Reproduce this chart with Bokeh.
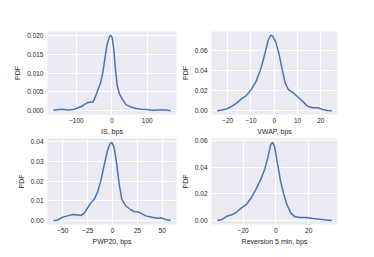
from bokeh.plotting import figure
from bokeh.layouts import gridplot
from bokeh.models import Range1d, FixedTicker
from bokeh.embed import file_html
from bokeh.resources import INLINE

# ---- data ----
is_x = [-165, -142, -123, -109, -95, -86, -77, -67, -58, -53, -46, -39, -32, -25, -19, -13,
        -6.5, -3, 1, 5.6, 10, 15, 21.5, 31, 40, 54, 68, 82, 96, 115, 134, 152, 166]
is_pdf = [0.0001, 0.0004, 0.0002, 0.0003, 0.0008, 0.0011, 0.0017, 0.0022, 0.0023, 0.0023,
          0.0038, 0.0056, 0.0073, 0.0103, 0.0142, 0.0177, 0.0197, 0.0200, 0.0194, 0.0163,
          0.0112, 0.0068, 0.0044, 0.0029, 0.0016, 0.0010, 0.0006, 0.0004, 0.0003, 0.0001,
          0.0002, 0.0002, 0.0000]

vwap_x = [-24.5, -22.4, -20.3, -18.3, -16.2, -14.1, -12.0, -9.9, -7.8, -5.7, -4.0, -2.6,
          -1.5, -0.7, 0.6, 2.0, 3.3, 4.7, 6.1, 8.2, 10.3, 12.4, 14.5, 16.6, 18.7, 20.8,
          22.9, 24.7]
vwap_pdf = [0.0000, 0.0007, 0.0020, 0.0042, 0.0075, 0.0117, 0.0150, 0.0209, 0.0290, 0.0421,
            0.0568, 0.0698, 0.0747, 0.0741, 0.0682, 0.0568, 0.0421, 0.0274, 0.0209, 0.0176,
            0.0134, 0.0088, 0.0042, 0.0029, 0.0029, 0.0013, 0.0003, 0.0000]

pwp_x = [-59.5, -55.2, -50.2, -45.2, -40.1, -35.1, -31.8, -28.4, -25.1, -21.7, -18.4, -15.1,
         -11.7, -8.4, -5.0, -2.3, -0.7, 1.7, 4.0, 6.7, 9.4, 13.4, 18.4, 21.7, 25.1, 28.4,
         33.4, 40.1, 45.2, 49.5, 53.5, 58.5]
pwp_pdf = [0.0000, 0.0002, 0.0017, 0.0024, 0.0031, 0.0028, 0.0026, 0.0038, 0.0064, 0.0091,
           0.0108, 0.0143, 0.0203, 0.0280, 0.0357, 0.0392, 0.0397, 0.0371, 0.0297, 0.0186,
           0.0108, 0.0074, 0.0055, 0.0046, 0.0045, 0.0038, 0.0024, 0.0017, 0.0012, 0.0014,
           0.0005, 0.0000]

rev_x = [-35.8, -32.9, -29.9, -26.9, -24.0, -21.0, -18.0, -15.0, -12.1, -9.1, -6.7, -4.8,
         -3.2, -2.0, -0.8, 0.8, 2.8, 4.8, 6.7, 9.1, 11.7, 14.7, 18.6, 22.6, 26.5, 30.5, 34.1]
rev_pdf = [0.0000, 0.0008, 0.0033, 0.0043, 0.0064, 0.0095, 0.0120, 0.0171, 0.0235, 0.0312,
           0.0388, 0.0478, 0.0567, 0.0585, 0.0554, 0.0439, 0.0299, 0.0197, 0.0120, 0.0056,
           0.0028, 0.0023, 0.0023, 0.0015, 0.0010, 0.0005, 0.0000]

# ---- tick values and labels ----
is_xticks = [-100, 0, 100]
is_xlabels = ["\u2212100", "0", "100"]
is_yticks = [0.0, 0.005, 0.01, 0.015, 0.02]
is_ylabels = ["0.000", "0.005", "0.010", "0.015", "0.020"]

vwap_xticks = [-20, -10, 0, 10, 20]
vwap_xlabels = ["\u221220", "\u221210", "0", "10", "20"]
vwap_yticks = [0.0, 0.02, 0.04, 0.06]
vwap_ylabels = ["0.00", "0.02", "0.04", "0.06"]

pwp_xticks = [-50, -25, 0, 25, 50]
pwp_xlabels = ["\u221250", "\u221225", "0", "25", "50"]
pwp_yticks = [0.0, 0.01, 0.02, 0.03, 0.04]
pwp_ylabels = ["0.00", "0.01", "0.02", "0.03", "0.04"]

rev_xticks = [-20, 0, 20]
rev_xlabels = ["\u221220", "0", "20"]
rev_yticks = [0.0, 0.02, 0.04, 0.06]
rev_ylabels = ["0.00", "0.02", "0.04", "0.06"]

x_titles = ["IS, bps", "VWAP, bps", "PWP20, bps", "Reversion 5 min, bps"]

BG = "#EAEAF2"
LINE = "#4C72B0"
TXT = "#262626"
FONT = "Liberation Sans"


def padded(vals, frac=0.05):
    lo, hi = min(vals), max(vals)
    span = hi - lo
    return Range1d(lo - frac * span, hi + frac * span)


def make(x, y, xlabel, xt, xl, yt, yl, width, height, bl, br, bt, bb):
    p = figure(width=width, height=height, output_backend="svg", toolbar_location=None,
               x_range=padded(x), y_range=padded(y),
               min_border_left=bl, min_border_right=br, min_border_top=bt,
               min_border_bottom=bb, background_fill_color=BG,
               border_fill_color="white", outline_line_color=None)
    p.line(x, y, line_color=LINE, line_width=1.5)
    p.xaxis.ticker = FixedTicker(ticks=xt)
    p.yaxis.ticker = FixedTicker(ticks=yt)
    p.xaxis.major_label_overrides = dict(zip(xt, xl))
    p.yaxis.major_label_overrides = dict(zip(yt, yl))
    p.xaxis.axis_label = xlabel
    p.yaxis.axis_label = "PDF"
    for ax in (p.xaxis, p.yaxis):
        ax.axis_line_color = None
        ax.major_tick_line_color = None
        ax.minor_tick_line_color = None
        ax.major_tick_out = 0
        ax.major_tick_in = 0
        ax.major_label_text_font = FONT
        ax.major_label_text_font_size = "6.5px"
        ax.major_label_text_color = TXT
        ax.axis_label_text_font = FONT
        ax.axis_label_text_font_size = "7px"
        ax.axis_label_text_font_style = "normal"
        ax.axis_label_text_color = TXT
    p.xaxis.major_label_standoff = 3
    p.xaxis.axis_label_standoff = 2
    p.yaxis.major_label_standoff = 4
    p.yaxis.axis_label_standoff = 3
    p.grid.grid_line_color = "white"
    p.grid.grid_line_width = 1
    p.xgrid.ticker = FixedTicker(ticks=xt)
    p.ygrid.ticker = FixedTicker(ticks=yt)
    return p


p1 = make(is_x, is_pdf, x_titles[0], is_xticks, is_xlabels, is_yticks, is_ylabels,
          178, 137, 47, 2, 31, 21)
p2 = make(vwap_x, vwap_pdf, x_titles[1], vwap_xticks, vwap_xlabels, vwap_yticks, vwap_ylabels,
          188, 137, 29, 29, 31, 21)
p3 = make(pwp_x, pwp_pdf, x_titles[2], pwp_xticks, pwp_xlabels, pwp_yticks, pwp_ylabels,
          178, 112, 47, 2, 1, 25)
p4 = make(rev_x, rev_pdf, x_titles[3], rev_xticks, rev_xlabels, rev_yticks, rev_ylabels,
          188, 112, 29, 29, 1, 25)

grid = gridplot([[p1, p2], [p3, p4]], toolbar_location=None)

open("out.html", "w").write(file_html(grid, INLINE))
